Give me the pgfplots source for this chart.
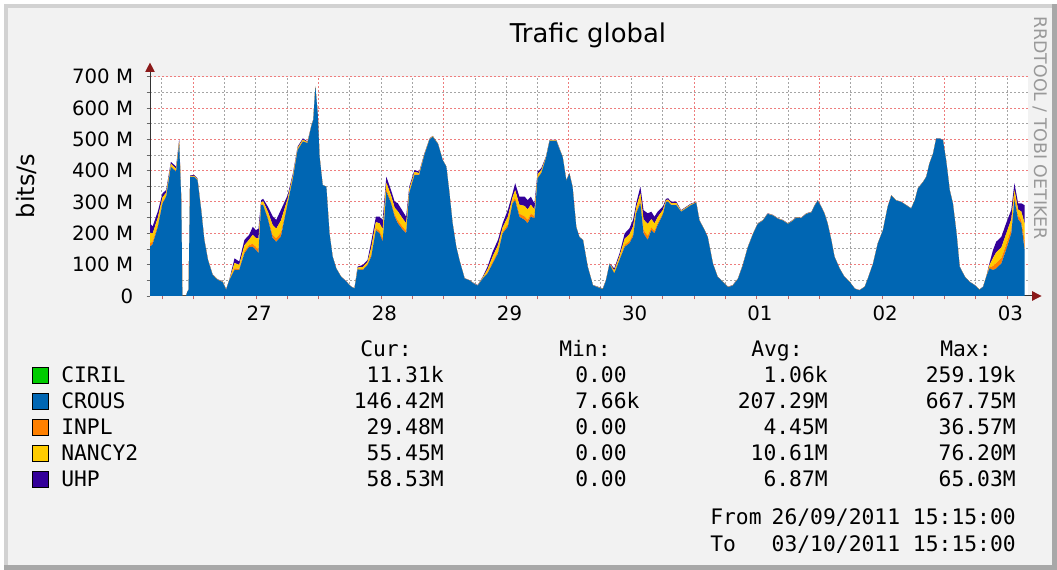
\documentclass[border=0pt]{standalone}
\usepackage{pgfplots}
\pgfplotsset{compat=1.18}
\usepackage{pgfplotstable}
\usepackage{fontspec}
\setmainfont{DejaVu Sans}
\newfontfamily\monofont{DejaVu Sans Mono}
\usetikzlibrary{arrows.meta}
\definecolor{ciril}{HTML}{00CC00}
\definecolor{crous}{HTML}{0066B3}
\definecolor{inpl}{HTML}{FF8000}
\definecolor{nancy}{HTML}{FFCC00}
\definecolor{uhp}{HTML}{330099}
\definecolor{mgrid}{RGB}{238,125,125}
\definecolor{mingrid}{RGB}{165,165,165}
\definecolor{bgc}{HTML}{F2F2F2}
\definecolor{arr}{HTML}{8B1A1A}
\definecolor{framel}{HTML}{D2D2D2}
\definecolor{framed}{HTML}{A8A8A8}
\newcommand\lgf{\monofont\fontsize{16}{19}\selectfont}

\pgfplotstableread{
t crous inpl nancy uhp
-8.3 157 11.3 33.8 30
-7.8 165 8.6 25.7 22.7
-6.8 220 7.5 22.5 20
-5.9 295 5 14.9 13.1
-5.2 317 3.2 9.5 8.3
-4.3 412 2.4 7.2 6.4
-3.3 397 2.4 7.2 6.4
-2.7 485 2.3 6.8 5.9
-2.3 300 0.8 2.3 1.9
-2.1 0 0 0 0
-1.4 0 0 0 0
-1.1 15 0 0 0
-0.9 20 0 0 0
-0.6 380 0.8 2.3 1.9
0.2 380 0.9 2.7 2.4
0.8 370 0.8 2.3 1.9
1.5 275 0 1 1
2.1 179 0 1 1
2.8 115 0 1 1
3.7 67 0 1 1
4.7 51 0 1 1
5.6 45 0.5 1.4 1.1
6.3 20 0 1 1
6.9 50 0 1 1
7.9 83 5.6 16.7 14.7
8.8 83 4.1 12.2 10.7
9.8 136 6.5 19.4 17.1
10.7 157 5.7 17.1 15.2
11.4 157 9.6 28.8 25.6
12.0 147 9.5 28.4 25.1
12.5 137 11.7 35.1 31.2
13.0 290 2.4 7.2 6.4
13.4 290 3 9 8
14.3 245 6 18 16
15.2 185 10.5 31.5 28
15.9 173 10.5 31.5 28
16.8 190 12.8 38.3 33.9
18.1 296 3.9 11.7 10.4
19.1 376 2.4 7.2 6.4
20.0 466 1.7 5 4.3
21.0 493 1.5 4.5 4
21.9 488 0.8 2.3 1.9
22.6 540 0 1 1
23.0 562 0 1 1
23.4 668 0 0 0
23.85 583 0 0 0
24.2 445 0 0 0
24.8 354 0 0 0
25.5 349 0 0 0
26.1 200 0 0 0
26.7 126 0 0 0
27.4 88 0 0 0
28.3 62 0 0.5 0.5
29.3 46 0 0.5 0.5
30.2 30 0 0.5 0.5
30.9 24 0 0.5 0.5
31.5 85 1.4 4.1 3.5
32.5 83 2.4 7.2 6.4
33.4 99 2.4 7.2 6.4
34.1 125 7.2 21.6 19.2
35.0 210 6.5 19.4 17.1
35.7 200 8 23.9 21.1
36.3 173 10.4 31 27.6
37.0 333 7.2 21.6 19.2
37.9 296 6.3 18.9 16.8
38.6 253 7.2 21.6 19.2
39.2 232 9.6 28.8 25.6
40.2 210 8.9 26.6 23.5
40.8 200 8 23.9 21.1
41.4 329 3 9 8
42.4 386 2.4 7.2 6.4
43.3 386 1.7 5 4.3
44.3 450 0.8 2.3 1.9
45.3 500 0.5 1.4 1.1
45.9 508 0.5 1.4 1.1
46.9 485 0 1 1
47.8 434 0 0 0
48.5 413 0 0 0
49.1 328 0 0 0
49.7 232 0 0 0
50.4 157 0 0 0
51.0 115 0 0 0
52.0 56 0 0.5 0.5
52.9 50 0 0.5 0.5
53.9 38 0 1 1
54.5 33 0 1 1
55.5 56 0.9 2.7 2.4
56.4 72 3.3 9.9 8.8
57.4 104 5.7 17.1 15.2
58.4 136 6.5 19.4 17.1
59.3 200 4.8 14.4 12.8
60.3 221 8.1 24.3 21.6
61.2 296 4.8 14.4 12.8
61.7 305 8.3 24.8 21.9
62.5 253 9.6 28.8 25.6
63.5 243 11.1 33.3 29.6
64.1 232 11.1 33.3 29.6
64.7 253 9.6 28.8 25.6
65.4 248 7.1 21.2 18.7
66.0 376 3.2 9.5 8.3
66.7 392 2.4 7.2 6.4
67.6 440 0.8 2.3 1.9
68.3 495 0 1.5 1.5
68.9 495 0 1.5 1.5
69.6 495 0 1.5 1.5
70.2 468 0 1.5 1.5
70.8 443 0 1 1
71.5 368 0 1 1
72.1 390 0 1 1
72.7 347 0 1 1
73.4 220 0 0.5 0.5
74.0 188 0 0.5 0.5
74.7 178 0 0.5 0.5
75.6 93 0 0.5 0.5
76.6 34 0 0.5 0.5
77.5 28 0 1 1
78.5 22 0 1 1
79.1 49 0 1 1
79.8 102 0 1 1
80.7 72 2.4 7.2 6.4
81.7 115 3.2 9.5 8.3
82.7 157 6.5 19.4 17.1
83.6 168 7.2 21.6 19.2
84.3 190 8 23.9 21.1
84.9 264 4.8 14.4 12.8
85.7 296 8 23.9 21.1
86.3 200 11.1 33.3 29.6
87.1 179 12.8 38.3 33.9
87.8 210 8.9 26.6 23.5
88.4 200 8 23.9 21.1
89.0 226 6.5 19.4 17.1
90.0 259 3.9 11.7 10.4
90.6 300 1.5 4.5 4
91.0 301 1.7 5 4.3
91.6 290 1.7 5 4.3
92.6 290 1.7 5 4.3
93.5 269 0.8 2.3 1.9
94.5 280 0.8 2.3 1.9
95.4 290 0.8 2.3 1.9
96.4 298 0 1.5 1.5
97.0 241 0 1 1
98.0 210 0 0.5 0.5
98.6 188 0 0.5 0.5
99.6 103 0 0.5 0.5
100.5 61 0 0.5 0.5
101.5 45 0 0.5 0.5
102.5 28 0 1 1
103.4 33 0 1 1
104.4 54 0 1 1
105.3 96 0 1.5 1.5
106.3 155 0 1 1
107.3 198 0 1 1
108.2 230 0 1 1
109.2 241 0 1 1
110.1 262 0 1 1
111.1 257 0 1 1
112.1 246 0 1 1
113.0 241 0 1 1
114.0 230 0 1 1
114.9 240 0 1.5 1.5
115.6 250 0 1 1
116.5 248 0 1 1
117.5 262 0 1 1
118.5 267 0 1 1
119.1 288 0 1 1
119.7 304 0 1 1
120.4 283 0 1 1
121.0 262 0 1 1
121.6 230 0 1 1
122.3 178 0 0.5 0.5
122.9 125 0 0.5 0.5
123.9 87 0 0.5 0.5
124.8 61 0 0.5 0.5
125.8 45 0 0.5 0.5
126.8 23 0 0.5 0.5
127.7 18 0 0.5 0.5
128.7 29 0 0.5 0.5
129.3 55 0 0.5 0.5
130.3 103 0 0.5 0.5
131.2 167 0 0.5 0.5
132.2 210 0 0.5 0.5
133.1 284 0 0.5 0.5
133.8 320 0 1 1
134.7 305 0 0.5 0.5
135.7 300 0 0.5 0.5
136.7 289 0 0.5 0.5
137.6 279 0 0.5 0.5
138.3 305 0 0.5 0.5
138.9 343 0 0.5 0.5
139.9 364 0 0.5 0.5
140.5 380 0 0.5 0.5
141.1 422 0 0.5 0.5
141.8 454 0 0.5 0.5
142.4 502 0 0.5 0.5
143.1 502 0 0.5 0.5
143.7 497 0 0.5 0.5
144.3 433 0 0.5 0.5
145.0 337 0 0.5 0.5
145.6 295 0 0.5 0.5
146.3 199 0 0.5 0.5
146.9 93 0 0.5 0.5
147.9 61 0 0.5 0.5
148.8 45 0 0.5 0.5
149.8 34 0 0.5 0.5
150.7 20 0 0.5 0.5
151.4 29 0 0.5 0.5
152.0 61 0 0.5 0.5
152.6 88 3.2 6.4 6.4
153.3 83 12.8 25.6 25.6
153.9 88 17 34 34
154.9 104 17 34 34
155.8 147 17 34 34
156.8 200 15 30 30
157.4 306 10.8 21.6 21.6
158.1 245 10.2 20.4 20.4
158.7 232 12.8 25.6 25.6
159.35 146.4 29.5 55.5 58.5
}\traffic

\begin{document}
\begin{tikzpicture}
\useasboundingbox (0,0) rectangle (792.75pt,427.5pt);
\fill[white] (0,0) rectangle (792.75pt,427.5pt);
\fill[framel] (3pt,0pt) rectangle (792.75pt,424.5pt);
\fill[framed] (3pt,0pt) rectangle (792.75pt,3.75pt);
\fill[framed] (789pt,0pt) rectangle (792.75pt,424.5pt);
\fill[bgc] (6pt,3.75pt) rectangle (789pt,421.5pt);

\begin{axis}[
  at={(112.5pt,205.5pt)}, anchor=south west,
  scale only axis, width=658.5pt, height=164.5pt,
  xmin=-8.3, xmax=160, ymin=0, ymax=700,
  clip=false,
  axis background/.style={fill=white},
  axis line style={draw=none},
  stack plots=y,
  tick align=outside, tick pos=left,
  major tick length=2.5pt, minor tick length=2.5pt,
  every tick/.style={black!60, line width=0.6pt},
  xtick={0,24,48,72,96,120,144}, xticklabels={},
  x tick style={mgrid!80!black},
  minor xtick={-6,6,12,18,30,36,42,54,60,66,78,84,90,102,108,114,126,132,138,150,156},
  extra x ticks={12,36,60,84,108,132,156},
  extra x tick labels={27,28,29,30,01,02,03},
  extra x tick style={grid=none, major tick length=0pt},
  ytick={0,100,...,700},
  yticklabels={0,100 M,200 M,300 M,400 M,500 M,600 M,700 M},
  minor ytick={50,150,...,650},
  grid=both,
  major grid style={mgrid, line width=0.75pt, dash pattern=on 1.5pt off 1.5pt},
  minor grid style={mingrid, line width=0.75pt, dash pattern=on 1.5pt off 1.5pt},
  tick label style={font=\fontsize{14.8}{16}\selectfont},
  yticklabel style={inner sep=0pt, xshift=-10pt},
  xticklabel style={inner sep=0pt, yshift=-7.5pt, xshift=2.4pt},
]
\addplot[fill=crous, draw=none] table[x=t, y=crous] {\traffic} \closedcycle;
\addplot[fill=inpl, draw=none] table[x=t, y=inpl] {\traffic} \closedcycle;
\addplot[fill=nancy, draw=none] table[x=t, y=nancy] {\traffic} \closedcycle;
\addplot[fill=uhp, draw=none] table[x=t, y=uhp] {\traffic} \closedcycle;
\draw[black!80, line width=0.75pt, -{Triangle[length=7pt,width=7pt,color=arr]}] (axis cs:-8.3,0) -- (axis cs:-8.3,745);
\draw[black!80, line width=0.75pt, -{Triangle[length=7pt,width=7pt,color=arr]}] (axis cs:-8.3,0) -- (axis cs:162.6,0);
\end{axis}

\node[anchor=base, inner sep=0pt, font=\fontsize{19.4}{22}\selectfont] at (441pt,395.25pt) {Trafic global};
\node[rotate=90, inner sep=0pt, font=\fontsize{18}{20}\selectfont] at (19.5pt,288pt) {bits/s};
\node[rotate=-90, inner sep=0pt, text=black!40, font=\fontsize{13}{15}\selectfont] at (780pt,331.5pt) {RRDTOOL / TOBI OETIKER};

% legend header
\node[anchor=base west, inner sep=0pt] at (270pt,159.75pt) {\lgf Cur:};
\node[anchor=base west, inner sep=0pt] at (419.25pt,159.75pt) {\lgf Min:};
\node[anchor=base west, inner sep=0pt] at (563.25pt,159.75pt) {\lgf Avg:};
\node[anchor=base west, inner sep=0pt] at (705pt,159.75pt) {\lgf Max:};

\foreach \nm/\col/\yy/\cur/\mn/\av/\mx in {
  CIRIL/ciril/140.25/11.31k/0.00/1.06k/259.19k,
  CROUS/crous/120.75/146.42M/7.66k/207.29M/667.75M,
  INPL/inpl/101.25/29.48M/0.00/4.45M/36.57M,
  NANCY2/nancy/81.75/55.45M/0.00/10.61M/76.20M,
  UHP/uhp/62.25/58.53M/0.00/6.87M/65.03M} {
  \filldraw[fill=\col, draw=black, line width=0.75pt] (24.4pt,\yy pt-0.4pt) rectangle ++(12pt,12pt);
  \node[anchor=base west, inner sep=0pt] at (45.75pt,\yy pt) {\lgf \nm};
  \node[anchor=base east, inner sep=0pt] at (333pt,\yy pt) {\lgf \cur};
  \node[anchor=base west, inner sep=0pt] at (431.25pt,\yy pt) {\lgf \mn};
  \node[anchor=base east, inner sep=0pt] at (621pt,\yy pt) {\lgf \av};
  \node[anchor=base east, inner sep=0pt] at (762pt,\yy pt) {\lgf \mx};
}
\node[anchor=base west, inner sep=0pt] at (532.5pt,33.75pt) {\lgf From};
\node[anchor=base east, inner sep=0pt] at (762pt,33.75pt) {\lgf 26/09/2011 15:15:00};
\node[anchor=base west, inner sep=0pt] at (532.5pt,13.5pt) {\lgf To};
\node[anchor=base east, inner sep=0pt] at (762pt,13.5pt) {\lgf 03/10/2011 15:15:00};
\end{tikzpicture}
\end{document}
